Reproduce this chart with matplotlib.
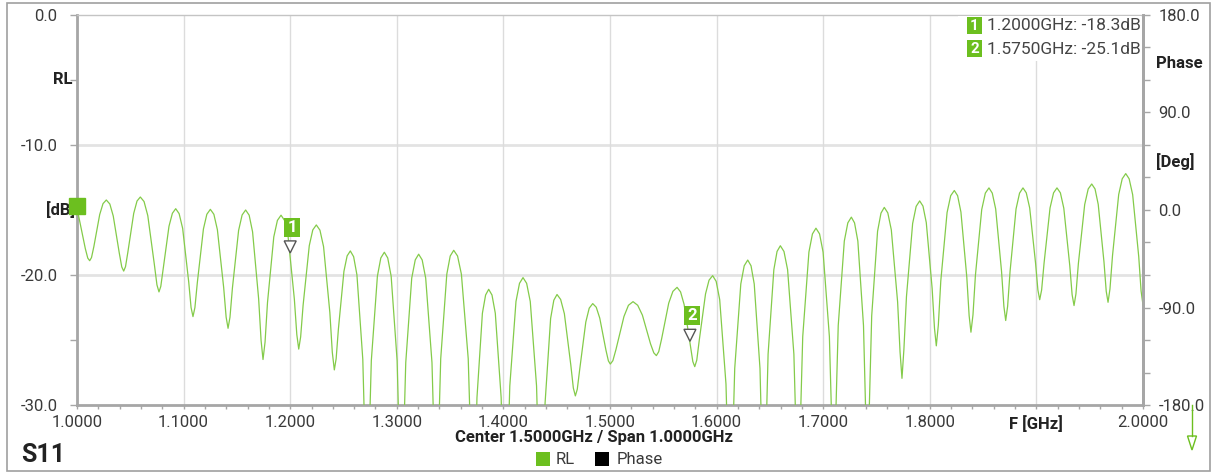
import numpy as np
import matplotlib
matplotlib.use('Agg')
import matplotlib.pyplot as plt
from matplotlib import transforms
from matplotlib.patches import Rectangle, Polygon

plt.rcParams['font.family'] = ['Roboto', 'DejaVu Sans']

# S11 return loss trace (peaks, nulls and flank points)
freq_ghz = [
    1.0000, 1.0044, 1.0078, 1.0101, 1.0119,
    1.0136, 1.0158, 1.0213, 1.0244, 1.0275, 1.0308, 1.0340, 1.0397, 1.0420, 1.0438,
    1.0455, 1.0477, 1.0532, 1.0563, 1.0594, 1.0629, 1.0664, 1.0725, 1.0750, 1.0769,
    1.0786, 1.0808, 1.0863, 1.0895, 1.0926, 1.0958, 1.0991, 1.1048, 1.1070, 1.1088,
    1.1106, 1.1129, 1.1186, 1.1218, 1.1251, 1.1284, 1.1317, 1.1376, 1.1399, 1.1417,
    1.1435, 1.1458, 1.1516, 1.1549, 1.1582, 1.1615, 1.1647, 1.1704, 1.1727, 1.1745,
    1.1764, 1.1787, 1.1846, 1.1880, 1.1914, 1.1947, 1.1980, 1.2039, 1.2062, 1.2080,
    1.2098, 1.2121, 1.2179, 1.2212, 1.2245, 1.2279, 1.2313, 1.2372, 1.2395, 1.2414,
    1.2431, 1.2452, 1.2504, 1.2534, 1.2564, 1.2595, 1.2626, 1.2681, 1.2703, 1.2720,
    1.2738, 1.2761, 1.2818, 1.2850, 1.2883, 1.2915, 1.2947, 1.3003, 1.3025, 1.3043,
    1.3061, 1.3084, 1.3140, 1.3173, 1.3205, 1.3238, 1.3271, 1.3330, 1.3353, 1.3371,
    1.3389, 1.3412, 1.3469, 1.3501, 1.3534, 1.3570, 1.3606, 1.3670, 1.3695, 1.3715,
    1.3731, 1.3752, 1.3803, 1.3833, 1.3862, 1.3893, 1.3924, 1.3979, 1.4001, 1.4018,
    1.4036, 1.4060, 1.4118, 1.4151, 1.4184, 1.4218, 1.4252, 1.4311, 1.4334, 1.4353,
    1.4370, 1.4391, 1.4443, 1.4473, 1.4503, 1.4537, 1.4572, 1.4632, 1.4656, 1.4675,
    1.4693, 1.4716, 1.4773, 1.4805, 1.4838, 1.4871, 1.4904, 1.4962, 1.4985, 1.5003,
    1.5027, 1.5056, 1.5131, 1.5173, 1.5216, 1.5260, 1.5304, 1.5380, 1.5411, 1.5435,
    1.5457, 1.5484, 1.5551, 1.5590, 1.5629, 1.5662, 1.5695, 1.5754, 1.5777, 1.5795,
    1.5814, 1.5837, 1.5896, 1.5929, 1.5963, 1.5996, 1.6029, 1.6088, 1.6111, 1.6129,
    1.6147, 1.6170, 1.6227, 1.6259, 1.6292, 1.6323, 1.6353, 1.6407, 1.6428, 1.6445,
    1.6462, 1.6483, 1.6537, 1.6567, 1.6598, 1.6632, 1.6666, 1.6725, 1.6748, 1.6767,
    1.6785, 1.6808, 1.6866, 1.6899, 1.6932, 1.6966, 1.6999, 1.7058, 1.7081, 1.7100,
    1.7118, 1.7141, 1.7198, 1.7231, 1.7264, 1.7294, 1.7325, 1.7378, 1.7399, 1.7416,
    1.7433, 1.7455, 1.7510, 1.7542, 1.7573, 1.7606, 1.7639, 1.7698, 1.7721, 1.7739,
    1.7757, 1.7781, 1.7839, 1.7872, 1.7905, 1.7936, 1.7967, 1.8022, 1.8044, 1.8061,
    1.8080, 1.8103, 1.8162, 1.8196, 1.8230, 1.8261, 1.8292, 1.8347, 1.8369, 1.8386,
    1.8405, 1.8428, 1.8487, 1.8521, 1.8555, 1.8586, 1.8618, 1.8673, 1.8695, 1.8712,
    1.8730, 1.8753, 1.8809, 1.8842, 1.8874, 1.8905, 1.8937, 1.8992, 1.9014, 1.9031,
    1.9049, 1.9072, 1.9128, 1.9161, 1.9193, 1.9225, 1.9257, 1.9313, 1.9335, 1.9353,
    1.9371, 1.9394, 1.9453, 1.9486, 1.9519, 1.9550, 1.9580, 1.9634, 1.9655, 1.9672,
    1.9690, 1.9714, 1.9772, 1.9805, 1.9838, 1.9870, 1.9903, 1.9960, 1.9982, 2.0000,
]
rl_db = [
    -14.85, -16.60, -17.97, -18.70, -18.90,
    -18.66, -17.82, -15.35, -14.51, -14.23, -14.54, -15.46, -18.33, -19.38, -19.70,
    -19.36, -18.25, -15.26, -14.31, -14.00, -14.35, -15.43, -19.15, -20.76, -21.30,
    -20.88, -19.56, -16.25, -15.25, -14.90, -15.28, -16.41, -20.54, -22.50, -23.20,
    -22.51, -20.57, -16.46, -15.33, -14.95, -15.33, -16.52, -20.97, -23.24, -24.10,
    -23.25, -21.00, -16.57, -15.38, -15.00, -15.40, -16.68, -21.84, -25.05, -26.50,
    -25.17, -22.12, -17.07, -15.80, -15.40, -15.80, -17.03, -21.86, -24.58, -25.70,
    -24.76, -22.33, -17.74, -16.53, -16.15, -16.55, -17.82, -22.89, -25.95, -27.30,
    -26.44, -24.17, -19.72, -18.53, -18.15, -18.59, -19.99, -26.49, -33.35, -45.00,
    -33.45, -26.59, -20.09, -18.69, -18.25, -18.69, -20.09, -26.59, -33.45, -45.00,
    -33.60, -26.74, -20.24, -18.84, -18.40, -18.84, -20.24, -26.74, -33.60, -45.00,
    -33.30, -26.44, -19.94, -18.54, -18.10, -18.54, -19.94, -26.44, -33.30, -45.00,
    -36.30, -29.44, -22.94, -21.54, -21.10, -21.54, -22.94, -29.44, -36.30, -45.00,
    -35.40, -28.54, -22.04, -20.64, -20.20, -20.64, -22.04, -28.54, -35.40, -45.00,
    -36.70, -29.84, -23.34, -21.94, -21.50, -21.88, -22.98, -26.90, -28.69, -29.30,
    -28.79, -27.25, -23.62, -22.55, -22.20, -22.48, -23.32, -25.78, -26.61, -26.85,
    -26.59, -25.73, -23.19, -22.33, -22.05, -22.33, -23.09, -25.29, -25.99, -26.20,
    -25.90, -24.92, -22.16, -21.26, -20.95, -21.30, -22.26, -25.44, -26.66, -27.05,
    -26.55, -25.04, -21.46, -20.40, -20.05, -20.49, -21.89, -28.39, -35.25, -45.00,
    -34.05, -27.19, -20.69, -19.29, -18.85, -19.29, -20.69, -27.19, -34.05, -45.00,
    -32.95, -26.09, -19.59, -18.19, -17.75, -18.19, -19.59, -26.09, -32.95, -45.00,
    -31.60, -24.74, -18.24, -16.84, -16.40, -16.84, -18.24, -24.74, -31.60, -45.00,
    -30.75, -23.89, -17.39, -15.99, -15.55, -15.99, -17.39, -23.89, -30.75, -45.00,
    -30.00, -23.14, -16.64, -15.24, -14.80, -15.22, -16.53, -22.07, -25.93, -27.95,
    -25.73, -21.67, -16.04, -14.72, -14.30, -14.70, -15.97, -21.04, -24.10, -25.45,
    -23.86, -20.47, -15.20, -13.90, -13.50, -13.90, -15.16, -20.16, -23.13, -24.40,
    -23.07, -20.02, -14.97, -13.70, -13.30, -13.70, -14.92, -19.72, -22.41, -23.50,
    -22.41, -19.72, -14.92, -13.70, -13.30, -13.68, -14.84, -19.08, -21.15, -21.90,
    -21.15, -19.08, -14.84, -13.68, -13.30, -13.68, -14.86, -19.27, -21.51, -22.35,
    -21.45, -19.10, -14.58, -13.38, -13.00, -13.38, -14.57, -19.00, -21.25, -22.10,
    -21.08, -18.51, -13.81, -12.60, -12.20, -12.60, -13.82, -18.59, -21.23, -22.30,
]

marker_freq = [1.2000, 1.5750]
marker_db = [-18.3, -25.1]
ref_level_db = -14.7

xtick_labels = ['1.0000', '1.1000', '1.2000', '1.3000', '1.4000', '1.5000',
                '1.6000', '1.7000', '1.8000', 'F [GHz]', '2.0000']
ytick_labels = ['0.0', '', '-10.0', '', '-20.0', '', '-30.0']
phase_labels = ['180.0', '90.0', '0.0', '-90.0', '-180.0']

W, H = 1213, 473
green = '#6cbf1f'
trace_c = '#84cb4a'
grid_c = '#dcdcdc'
spine_c = '#a6a6a6'
txt_c = '#3a3a3a'
dark = '#222222'


def px(x, y):
    return (x / W, 1 - y / H)


fig = plt.figure(figsize=(W / 100, H / 100), dpi=100)
L, R, T, B = 77, 1143, 15, 405
ax = fig.add_axes([L / W, 1 - B / H, (R - L) / W, (B - T) / H])

ax.plot(freq_ghz, rl_db, color=trace_c, lw=0.9, zorder=3, solid_joinstyle='round')
ax.set_xlim(1.0, 2.0)
ax.set_ylim(-30, 0)

ax.set_xticks(np.linspace(1.0, 2.0, 11))
ax.set_xticklabels(xtick_labels)
ax.set_xticks(np.linspace(1.0, 2.0, 51), minor=True)
ax.set_yticks(np.linspace(0, -30, 7))
ax.set_yticklabels(ytick_labels)
ax.tick_params(axis='x', which='both', direction='out', length=3, width=1,
               color=spine_c, labelsize=12, labelcolor=txt_c, pad=4)
ax.tick_params(axis='y', direction='out', length=5, width=1, color=spine_c,
               labelsize=12, labelcolor=txt_c, pad=9)
for lab in ax.get_xticklabels():
    if lab.get_text() == 'F [GHz]':
        lab.set_fontweight('bold')
        lab.set_color(dark)

ax.grid(axis='x', which='major', color=grid_c, lw=1, zorder=0)
for yv in [-10, -20]:
    ax.axhline(yv, color='#e3e3e3', lw=2, zorder=1)

for s in ['left', 'bottom', 'right']:
    ax.spines[s].set_color(spine_c)
    ax.spines[s].set_linewidth(2)
ax.spines['top'].set_color('#c4c4c4')
ax.spines['top'].set_linewidth(1)

ytr = transforms.blended_transform_factory(ax.transAxes, ax.transData)
ax.text(-4 / 1066, -5, 'RL', transform=ytr, ha='right', va='center',
        fontsize=12, fontweight='bold', color=dark)
ax.text(-2 / 1066, -15, '[dB]', transform=ytr, ha='right', va='center',
        fontsize=12, fontweight='bold', color=dark)

# phase axis on the right
ax2 = ax.twinx()
ax2.set_ylim(-180, 180)
ax2.set_yticks(np.linspace(-180, 180, 13))
ax2.set_yticklabels([phase_labels[(180 - int(v)) // 90] if v % 90 == 0 else ''
                     for v in np.linspace(-180, 180, 13)])
ax2.tick_params(axis='y', direction='out', length=5, width=1, color=spine_c,
                labelsize=12, labelcolor=txt_c, pad=6)
for s in ['left', 'bottom', 'top']:
    ax2.spines[s].set_visible(False)
ax2.spines['right'].set_color(spine_c)
ax2.spines['right'].set_linewidth(2)
ptr = transforms.blended_transform_factory(ax2.transAxes, ax2.transData)
ax2.text(1 + 13 / 1066, 135, 'Phase', transform=ptr, ha='left', va='center',
         fontsize=12, fontweight='bold', color=dark)
ax2.text(1 + 13 / 1066, 45, '[Deg]', transform=ptr, ha='left', va='center',
         fontsize=12, fontweight='bold', color=dark)

# reference level square on the left axis
ax.plot([freq_ghz[0]], [ref_level_db], 's', ms=11.5, color=green,
        clip_on=False, zorder=6)


def at_point(x, y):
    return transforms.Affine2D() + transforms.ScaledTranslation(x, y, ax.transData)


for i, (f, v) in enumerate(zip(marker_freq, marker_db)):
    tr = at_point(f, v)
    ax.add_patch(Polygon([(-6, 12), (6, 12), (0, 0)], closed=True, transform=tr,
                         fc='white', ec='#555555', lw=1, zorder=6))
    ax.add_patch(Rectangle((-6, 16), 16, 19, transform=tr, fc=green, ec='none', zorder=6))
    ax.text(2, 25.5, str(i + 1), transform=tr, ha='center', va='center',
            color='white', fontsize=12, fontweight='bold', zorder=7)

# marker readout, top right
fig.patches.append(Rectangle(px(958, 61), (1141 - 958) / W, 45 / H,
                             transform=fig.transFigure, fc='white', ec='none', zorder=1))
for i, (f, v) in enumerate(zip(marker_freq, marker_db)):
    yc = 26 + 23 * i
    fig.patches.append(Rectangle(px(967, yc + 8.5), 15 / W, 17 / H,
                                 transform=fig.transFigure, fc=green, ec='none', zorder=2))
    fig.text(*px(974.5, yc), str(i + 1), ha='center', va='center', color='white',
             fontsize=11, fontweight='bold', zorder=3)
    fig.text(*px(1141, yc), f'{f:.4f}GHz: {v:.1f}dB', ha='right', va='center',
             fontsize=12.5, color='#444444', zorder=3)

fig.text(*px(594, 437), 'Center 1.5000GHz / Span 1.0000GHz', ha='center', va='center',
         fontsize=12, fontweight='bold', color=dark)
fig.text(*px(21, 455), 'S11', ha='left', va='center', fontsize=18,
         fontweight='bold', color=dark)

# legend
fig.patches.append(Rectangle(px(536, 466), 14 / W, 14 / H, transform=fig.transFigure,
                             fc=green, ec='none'))
fig.text(*px(556, 459), 'RL', ha='left', va='center', fontsize=12, color=txt_c)
fig.patches.append(Rectangle(px(595, 466), 14 / W, 14 / H, transform=fig.transFigure,
                             fc='black', ec='none'))
fig.text(*px(617, 459), 'Phase', ha='left', va='center', fontsize=12, color=txt_c)

# scroll arrow bottom right
fig.lines.append(plt.Line2D([1192 / W, 1192 / W], [1 - 405 / H, 1 - 436 / H],
                            transform=fig.transFigure, color=green, lw=1))
fig.patches.append(Polygon([px(1187.5, 436), px(1196.5, 436), px(1192, 450)], closed=True,
                           transform=fig.transFigure, fc='white', ec=green, lw=1))

# outer frame
fig.patches.append(Rectangle(px(7, 471), 1203 / W, 468 / H, transform=fig.transFigure,
                             fill=False, ec='#a0a0a0', lw=1.2))

fig.savefig('out.png', dpi=100)
